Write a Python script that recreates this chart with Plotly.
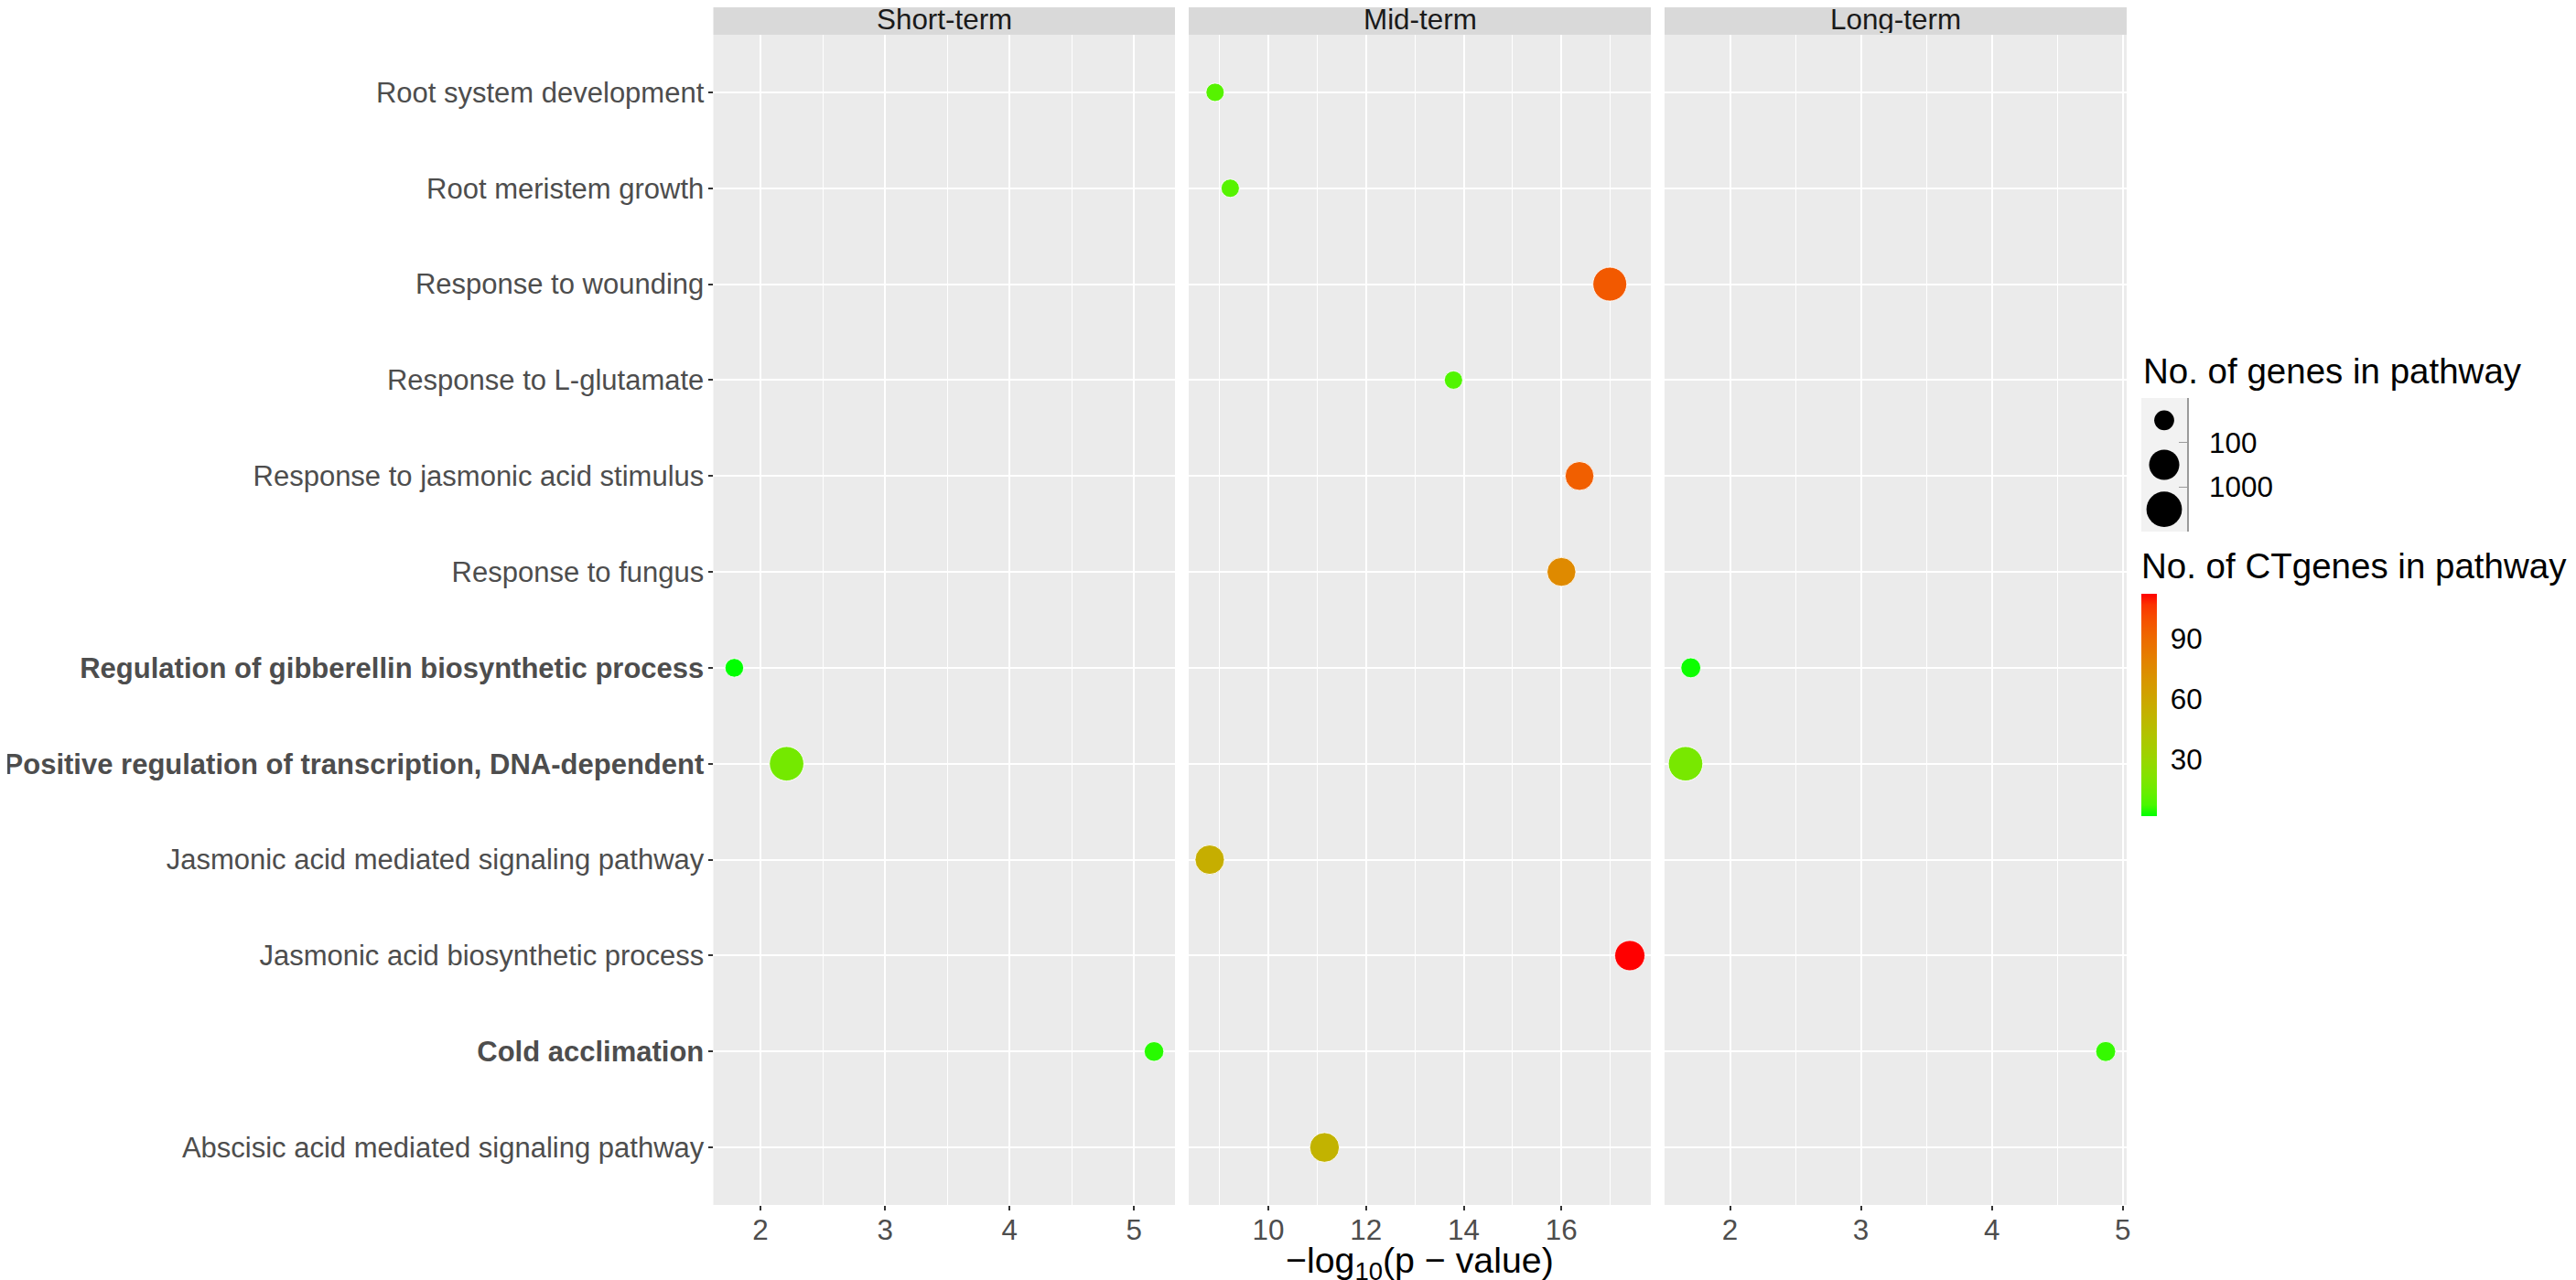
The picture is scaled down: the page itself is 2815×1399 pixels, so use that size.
import numpy as np
import plotly.graph_objects as go

# pathways, top to bottom as in the figure
pathways = [
    "Root system development",
    "Root meristem growth",
    "Response to wounding",
    "Response to L-glutamate",
    "Response to jasmonic acid stimulus",
    "Response to fungus",
    "Regulation of gibberellin biosynthetic process",
    "Positive regulation of transcription, DNA-dependent",
    "Jasmonic acid mediated signaling pathway",
    "Jasmonic acid biosynthetic process",
    "Cold acclimation",
    "Abscisic acid mediated signaling pathway",
]
bold_pathways = [
    "Regulation of gibberellin biosynthetic process",
    "Positive regulation of transcription, DNA-dependent",
    "Cold acclimation",
]
terms = ["Short-term", "Mid-term", "Long-term"]

short_path = ["Regulation of gibberellin biosynthetic process",
              "Positive regulation of transcription, DNA-dependent",
              "Cold acclimation"]
short_logp = [1.79, 2.21, 5.16]
short_genes = [22, 1150, 28]
short_ct = [2, 17, 5]

mid_path = ["Root system development", "Root meristem growth", "Response to wounding",
            "Response to L-glutamate", "Response to jasmonic acid stimulus", "Response to fungus",
            "Jasmonic acid mediated signaling pathway", "Jasmonic acid biosynthetic process",
            "Abscisic acid mediated signaling pathway"]
mid_logp = [8.91, 9.22, 16.99, 13.79, 16.37, 16.00, 8.80, 17.40, 11.15]
mid_genes = [20, 20, 1000, 20, 280, 280, 320, 400, 350]
mid_ct = [10, 10, 96, 9, 94, 75, 55, 112, 52]

long_path = ["Regulation of gibberellin biosynthetic process",
             "Positive regulation of transcription, DNA-dependent",
             "Cold acclimation"]
long_logp = [1.70, 1.66, 4.87]
long_genes = [30, 1150, 30]
long_ct = [3, 18, 6]

size_key_genes = [30, 400, 1500]
size_labels = ["100", "1000"]
ct_ticks = [30, 60, 90]
ct_min, ct_max = 2, 112

FONT = "Liberation Sans, Arial, sans-serif"
# the page body has an 8px margin, so the figure is drawn 8px smaller and
# positions below are given in reference-picture pixels
OFF = 8
W, H = 2815 - OFF, 1399 - OFF
PANEL_L, PANEL_B = 779, 1317
L_M, R_M, B_M = PANEL_L - OFF, 10, 1399 - PANEL_B
PW, PH = W - L_M - R_M, H - B_M


def fx(px):
    return (px - PANEL_L) / PW


def fy(py):
    return (PANEL_B - py) / PH


def gene_size(n):
    return [7 + 10 * np.log10(v) for v in n]


# green -> red gradient interpolated in Lab, like ggplot's scale_colour_gradient
M = np.array([[0.4124, 0.3576, 0.1805], [0.2126, 0.7152, 0.0722], [0.0193, 0.1192, 0.9505]])
WP = np.array([0.95047, 1.0, 1.08883])


def hex_to_lab(h):
    rgb = np.array([int(h[i:i + 2], 16) for i in (1, 3, 5)]) / 255
    lin = np.where(rgb <= 0.04045, rgb / 12.92, ((rgb + 0.055) / 1.055) ** 2.4)
    xyz = M @ lin / WP
    f = np.where(xyz > 0.008856, np.cbrt(xyz), 7.787 * xyz + 16 / 116)
    return np.array([116 * f[1] - 16, 500 * (f[0] - f[1]), 200 * (f[1] - f[2])])


def lab_to_hex(lab):
    fy_ = (lab[0] + 16) / 116
    f = np.array([fy_ + lab[1] / 500, fy_, fy_ - lab[2] / 200])
    xyz = np.where(f ** 3 > 0.008856, f ** 3, (f - 16 / 116) / 7.787) * WP
    lin = np.clip(np.linalg.inv(M) @ xyz, 0, 1)
    rgb = np.where(lin <= 0.0031308, 12.92 * lin, 1.055 * lin ** (1 / 2.4) - 0.055)
    return "#%02x%02x%02x" % tuple(int(round(c * 255)) for c in np.clip(rgb, 0, 1))


lo, hi = hex_to_lab("#00FF00"), hex_to_lab("#FF0000")
colorscale = [[t, lab_to_hex(lo + (hi - lo) * t)] for t in np.linspace(0, 1, 21)]

panels = [
    (short_path, short_logp, short_genes, short_ct, 1, 0.5),
    (mid_path, mid_logp, mid_genes, mid_ct, 2, 1),
    (long_path, long_logp, long_genes, long_ct, 1, 0.5),
]
x_domains = [(779.5, 1284), (1299, 1804), (1819, 2324)]
y_dom = [0, fy(38)]

fig = go.Figure()
layout = {}
shapes = []
annotations = []

for i, (path, logp, genes, ct, dt, mdt) in enumerate(panels):
    n = "" if i == 0 else str(i + 1)
    fig.add_trace(go.Scatter(
        x=logp, y=path, mode="markers", showlegend=False,
        xaxis="x" + n, yaxis="y" + n,
        marker=dict(size=gene_size(genes), color=ct, coloraxis="coloraxis",
                    opacity=1, line=dict(width=1, color="rgba(255,255,255,0.85)")),
    ))
    span = max(logp) - min(logp)
    layout["xaxis" + n] = dict(
        domain=[fx(x_domains[i][0]), fx(x_domains[i][1])], anchor="y" + n, automargin=False,
        range=[min(logp) - 0.05 * span, max(logp) + 0.05 * span],
        dtick=dt, tick0=0, showgrid=True, gridcolor="white", gridwidth=2,
        minor=dict(dtick=mdt, tick0=0, showgrid=True, gridcolor="white", gridwidth=1),
        zeroline=False, ticks="outside", ticklen=5, tickcolor="#333333", tickwidth=1.5,
        ticklabelstandoff=-6,
        tickfont=dict(size=31.4, color="#4D4D4D", family=FONT), showline=False,
    )
    yax = dict(
        domain=y_dom, anchor="x" + n, type="category", automargin=False,
        categoryorder="array", categoryarray=pathways,
        range=[len(pathways) - 0.4, -0.6],
        showgrid=True, gridcolor="white", gridwidth=2, zeroline=False,
    )
    if i == 0:
        yax.update(
            tickvals=pathways,
            ticktext=["<b>%s</b>" % p if p in bold_pathways else p for p in pathways],
            ticks="outside", ticklen=5, tickcolor="#333333", tickwidth=1.5,
            ticklabelstandoff=-2,
            tickfont=dict(size=31, color="#4D4D4D", family=FONT),
        )
    else:
        yax.update(matches="y", showticklabels=False, ticks="")
    layout["yaxis" + n] = yax

    shapes.append(dict(type="rect", xref="x%s domain" % n, yref="paper",
                       x0=0, x1=1, y0=fy(38), y1=1, fillcolor="#D9D9D9", line=dict(width=0)))
    annotations.append(dict(text=terms[i], xref="x%s domain" % n, yref="paper",
                            x=0.5, y=fy(21), showarrow=False, xanchor="center", yanchor="middle",
                            height=30, valign="middle",
                            font=dict(size=31.4, color="#1A1A1A", family=FONT)))

# size legend drawn as a small axis
fig.add_trace(go.Scatter(
    x=[0] * len(size_key_genes), y=list(range(len(size_key_genes))), mode="markers",
    showlegend=False, xaxis="x4", yaxis="y4", hoverinfo="skip",
    marker=dict(size=gene_size(size_key_genes), color="#000000", opacity=1, line=dict(width=0)),
))
layout["xaxis4"] = dict(domain=[fx(2340), fx(2390)], anchor="y4", range=[-1, 1],
                        visible=False, automargin=False)
layout["yaxis4"] = dict(
    domain=[fy(581), fy(435)], anchor="x4", range=[2.5, -0.5], side="right", automargin=False,
    tickvals=[0.5, 1.5], ticktext=size_labels, ticks="inside", ticklen=9,
    tickcolor="#9A9A9A", tickwidth=1, showline=True, linecolor="#9A9A9A", linewidth=1.5,
    showgrid=False, zeroline=False, ticklabelstandoff=16,
    tickfont=dict(size=31.4, color="black", family=FONT),
)
shapes.append(dict(type="rect", xref="x4 domain", yref="y4 domain", x0=0, x1=1, y0=0, y1=1,
                   fillcolor="#F2F2F2", line=dict(width=0), layer="below"))

annotations += [
    dict(text="No. of genes in pathway", xref="paper", yref="paper", x=fx(2340), y=fy(405),
         xanchor="left", yanchor="middle", showarrow=False,
         font=dict(size=38.5, color="black", family=FONT)),
    dict(text="No. of CTgenes in pathway", xref="paper", yref="paper", x=fx(2338), y=fy(618),
         xanchor="left", yanchor="middle", showarrow=False,
         font=dict(size=38.5, color="black", family=FONT)),
    dict(text="\u2212log<sub>10</sub>(p \u2212 value)", xref="paper", yref="paper",
         x=fx(1551.5), y=fy(1380), xanchor="center", yanchor="middle", showarrow=False,
         font=dict(size=39.3, color="black", family=FONT)),
]

fig.update_layout(
    width=W, height=H,
    margin=dict(l=L_M, r=R_M, t=0, b=B_M),
    paper_bgcolor="white", plot_bgcolor="#EBEBEB",
    font=dict(family=FONT, color="#4D4D4D"),
    coloraxis=dict(
        colorscale=colorscale, cmin=ct_min, cmax=ct_max,
        colorbar=dict(
            x=fx(2340), xanchor="left", xpad=0, y=fy(649), yanchor="top", ypad=0,
            len=243 / PH, lenmode="fraction", thickness=17, outlinewidth=0,
            tickvals=ct_ticks, ticks="outside", ticklen=9, tickcolor="rgba(255,255,255,0)",
            tickfont=dict(size=31.4, color="black", family=FONT), title=dict(text=""),
        ),
    ),
    shapes=shapes, annotations=annotations,
    **layout,
)

fig.write_html("out.html")
